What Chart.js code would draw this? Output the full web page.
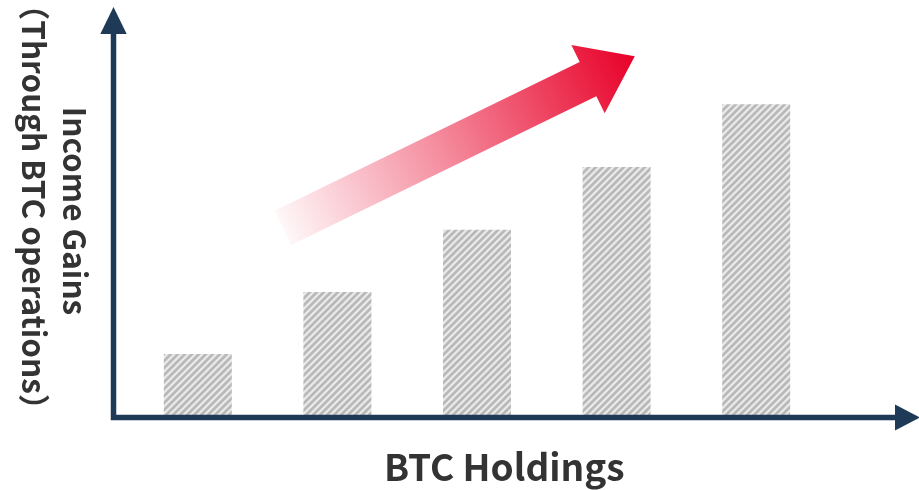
<!DOCTYPE html>
<html>
<head>
<meta charset="utf-8">
<style>
    html, body { margin: 0; padding: 0; background: #ffffff; }
    #wrap { width: 919px; height: 490px; }
</style>
<script src="https://cdn.jsdelivr.net/npm/chart.js@4.4.1/dist/chart.umd.min.js"></script>
</head>
<body>
<div id="wrap"><canvas id="incomeChart" width="919" height="490"></canvas></div>
<script>
// ===== DATA =====
const categories = ['1', '2', '3', '4', '5'];
const incomeValues = [0.98, 1.98, 2.98, 3.99, 5];
const xTitle = 'BTC Holdings';
const yTitleLines = ['Income Gains', '（Through BTC operations）'];
// trend arrow, in data units: [category index, value]
const trendFrom = [0.61, 3.01];
const trendTo = [3.13, 5.77];

// ===== STYLES =====
const AXIS_COLOR = '#1f3a56';
const TEXT_COLOR = '#333333';
const FONT = "'Noto Sans CJK JP', 'Noto Sans', sans-serif";

function makeStripePattern() {
    const size = 7;
    const c = document.createElement('canvas');
    c.width = size;
    c.height = size;
    const g = c.getContext('2d');
    g.fillStyle = '#ebebeb';
    g.fillRect(0, 0, size, size);
    g.strokeStyle = '#b9b9b9';
    g.lineWidth = 2.8;
    g.beginPath();
    g.moveTo(-1, size + 1); g.lineTo(size + 1, -1);
    g.moveTo(-1, 1); g.lineTo(1, -1);
    g.moveTo(size - 1, size + 1); g.lineTo(size + 1, size - 1);
    g.stroke();
    return g.createPattern(c, 'repeat');
}

// ===== DECORATION PLUGIN =====
const decorPlugin = {
    id: 'decor',
    afterDatasetsDraw(chart) {
        const ctx = chart.ctx;
        const area = chart.chartArea;
        const xs = chart.scales.x;
        const ys = chart.scales.y;

        ctx.save();

        // axes with arrow heads
        const axisX = area.left - 14.5;
        const axisY = area.bottom + 2.5;
        const axisEnd = chart.width - 24;
        ctx.strokeStyle = AXIS_COLOR;
        ctx.fillStyle = AXIS_COLOR;
        ctx.lineWidth = 5.5;
        ctx.beginPath();
        ctx.moveTo(axisX, axisY + 2.5);
        ctx.lineTo(axisX, 33);
        ctx.moveTo(axisX - 2.7, axisY);
        ctx.lineTo(axisEnd, axisY);
        ctx.stroke();

        ctx.beginPath();
        ctx.moveTo(axisX - 13.2, 34);
        ctx.lineTo(axisX + 13.2, 34);
        ctx.lineTo(axisX, 7);
        ctx.closePath();
        ctx.fill();

        ctx.beginPath();
        ctx.moveTo(axisEnd, axisY - 13);
        ctx.lineTo(axisEnd, axisY + 13);
        ctx.lineTo(chart.width + 1, axisY);
        ctx.closePath();
        ctx.fill();

        // gradient trend arrow
        const x0 = xs.getPixelForValue(trendFrom[0]);
        const y0 = ys.getPixelForValue(trendFrom[1]);
        const x1 = xs.getPixelForValue(trendTo[0]);
        const y1 = ys.getPixelForValue(trendTo[1]);
        const len = Math.hypot(x1 - x0, y1 - y0);
        const ang = Math.atan2(y1 - y0, x1 - x0);
        const shaft = 19, head = 38, headLen = 52;

        ctx.translate(x0, y0);
        ctx.rotate(ang);
        const grad = ctx.createLinearGradient(0, 0, len, 0);
        grad.addColorStop(0, 'rgba(232, 0, 40, 0.03)');
        grad.addColorStop(0.45, 'rgba(232, 0, 40, 0.45)');
        grad.addColorStop(1, 'rgba(232, 0, 40, 1)');
        ctx.fillStyle = grad;
        ctx.beginPath();
        ctx.moveTo(0, -shaft);
        ctx.lineTo(len - headLen, -shaft);
        ctx.lineTo(len - headLen, -head);
        ctx.lineTo(len, 0);
        ctx.lineTo(len - headLen, head);
        ctx.lineTo(len - headLen, shaft);
        ctx.lineTo(0, shaft);
        ctx.closePath();
        ctx.fill();
        ctx.setTransform(1, 0, 0, 1, 0, 0);

        // axis titles
        ctx.fillStyle = TEXT_COLOR;
        ctx.textAlign = 'center';
        ctx.textBaseline = 'middle';
        ctx.font = 'bold 37px ' + FONT;
        ctx.fillText(xTitle, (axisX + axisEnd) / 2, 467);

        ctx.font = 'bold 31.5px ' + FONT;
        ctx.translate(axisX - 39, 211);
        ctx.rotate(Math.PI / 2);
        ctx.fillText(yTitleLines[0], 0, 0);
        ctx.fillText(yTitleLines[1], -4, 41);

        ctx.restore();
    }
};

// ===== CHART =====
const incomeChart = new Chart(document.getElementById('incomeChart'), {
    type: 'bar',
    data: {
        labels: categories,
        datasets: [{
            data: incomeValues,
            backgroundColor: makeStripePattern(),
            borderWidth: 0,
            barPercentage: 0.487,
            categoryPercentage: 1
        }]
    },
    options: {
        responsive: false,
        animation: false,
        devicePixelRatio: 1,
        layout: {
            padding: { left: 128, right: 93, top: 42, bottom: 75 }
        },
        scales: {
            x: { display: false, grid: { display: false } },
            y: { display: false, min: 0, max: 6, grid: { display: false } }
        },
        plugins: {
            legend: { display: false },
            tooltip: { enabled: false }
        }
    },
    plugins: [decorPlugin]
});
</script>
</body>
</html>
